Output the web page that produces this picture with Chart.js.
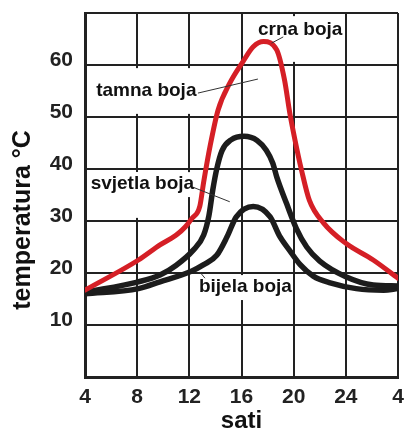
<!DOCTYPE html>
<html>
<head>
<meta charset="utf-8">
<script src="https://cdn.jsdelivr.net/npm/chart.js@4"></script>
<style>
  html, body { margin: 0; padding: 0; background: #fff; }
  #wrap { width: 404px; height: 430px; }
</style>
</head>
<body>
<div id="wrap"><canvas id="c" width="404" height="430"></canvas></div>
<script>
// hours of the day (4 .. 28, the last tick reads "4" again)
const hourTicks = [4, 8, 12, 16, 20, 24, 28];
const tickLabels = ['4', '8', '12', '16', '20', '24', '4'];

// crna boja (red curve)
const darkHours = [4, 8.1, 9.75, 11, 11.7, 12.2, 12.8, 13.1, 13.6, 14.2, 15.1, 16.1, 16.9, 17.7, 18.7, 19.3, 19.7, 20.1, 20.6, 21.2, 22.3, 24, 26.1, 28];
const darkTemps = [16.7, 22.5, 25.4, 27.3, 28.9, 30.5, 32.8, 37.5, 44.5, 51.3, 56.5, 60.6, 63.5, 64.5, 62.9, 57.1, 50.8, 45.6, 39.8, 34, 29.6, 25.7, 22.5, 19];

// svjetla boja (upper black curve)
const lightHours = [4, 8.1, 9.75, 11, 12.3, 13.1, 13.5, 13.8, 14.1, 14.5, 15.2, 16.2, 17.2, 17.9, 18.4, 18.7, 19.45, 20.2, 21, 22, 24, 26.1, 28];
const lightTemps = [16.3, 18.3, 19.6, 21.5, 24.4, 27.3, 31, 36, 40, 43.5, 45.6, 46.3, 45.5, 43.6, 41.1, 38.5, 33.4, 28.6, 25, 22.3, 19.3, 17.7, 17.5];

// bijela boja (lower black curve)
const whiteHours = [4, 8.1, 9.75, 12.2, 13.1, 14.1, 14.9, 15.6, 16.9, 18.2, 18.9, 19.7, 20.5, 21.5, 22.8, 24.8, 26.9, 28];
const whiteTemps = [16, 17, 18.3, 20.4, 21.6, 23.4, 27, 30.8, 32.8, 30.8, 27.2, 24.3, 21.6, 19.4, 18.1, 17, 16.7, 17];

const pts = (hs, ts) => hs.map((h, i) => ({x: h, y: ts[i]}));

// text labels: [text, hour, temp, leader from (h,t), leader to (h,t)]
const notes = [
  ['crna boja', 20.5, 66.7, [19.2, 65.4], [18.3, 64.2]],
  ['tamna boja', 8.7, 55, [12.66, 54.6], [17.26, 57.3]],
  ['svjetla boja', 8.4, 37.1, [12.28, 36.5], [15.1, 33.7]],
  ['bijela boja', 16.3, 17.3, [12.8, 20.2], [13.2, 19.0]],
];

// white patches behind the labels (hour1, hour2, temp1, temp2)
const gaps = [
  [17.4, 23.7, 60.6, 69.4],
  [4.4, 15.5, 50.6, 59.4],
  [4.4, 12.6, 34.6, 39.4],
  [4.4, 11.5, 30.6, 39.4],
  [13.5, 19.5, 14.8, 19.6],
];

const annotate = {
  id: 'annotate',
  beforeDatasetsDraw(chart) {
    const {ctx, scales: {x, y}} = chart;
    ctx.save();
    ctx.fillStyle = '#fff';
    gaps.forEach(([h1, h2, t1, t2]) => {
      const x1 = x.getPixelForValue(h1), x2 = x.getPixelForValue(h2);
      const y1 = y.getPixelForValue(t2), y2 = y.getPixelForValue(t1);
      ctx.fillRect(x1, y1, x2 - x1, y2 - y1);
    });
    ctx.restore();
  },
  afterDatasetsDraw(chart) {
    const {ctx, chartArea, scales: {x, y}} = chart;
    ctx.save();
    ctx.strokeStyle = '#333';
    ctx.lineWidth = 1;
    ctx.fillStyle = '#111';
    ctx.font = 'bold 19px "Liberation Sans", Arial, sans-serif';
    ctx.textAlign = 'center';
    ctx.textBaseline = 'middle';
    notes.forEach(([txt, h, t, from, to]) => {
      ctx.beginPath();
      ctx.moveTo(x.getPixelForValue(from[0]), y.getPixelForValue(from[1]));
      ctx.lineTo(x.getPixelForValue(to[0]), y.getPixelForValue(to[1]));
      ctx.stroke();
      ctx.fillText(txt, x.getPixelForValue(h), y.getPixelForValue(t));
    });
    // y axis title, sits a little below the middle of the axis
    ctx.translate(chartArea.left - 62, y.getPixelForValue(30.2));
    ctx.rotate(-Math.PI / 2);
    ctx.font = 'bold 25px "Liberation Sans", Arial, sans-serif';
    ctx.fillText('temperatura °C', 0, 0);
    ctx.restore();
  }
};

const font = {family: '"Liberation Sans", Arial, sans-serif', weight: 'bold', size: 21};

new Chart(document.getElementById('c'), {
  type: 'line',
  data: {
    datasets: [
      {label: 'crna boja', data: pts(darkHours, darkTemps), borderColor: '#d51f26', borderWidth: 5},
      {label: 'svjetla boja', data: pts(lightHours, lightTemps), borderColor: '#1c1c1c', borderWidth: 5.5},
      {label: 'bijela boja', data: pts(whiteHours, whiteTemps), borderColor: '#1c1c1c', borderWidth: 5.5},
    ]
  },
  options: {
    responsive: false,
    animation: false,
    layout: {padding: {top: 13, right: 6, left: 0, bottom: 0}},
    elements: {
      point: {radius: 0},
      line: {cubicInterpolationMode: 'monotone', fill: false, borderCapStyle: 'round'}
    },
    plugins: {legend: {display: false}, tooltip: {enabled: false}},
    scales: {
      x: {
        type: 'linear',
        min: 4, max: 28,
        afterFit: (s) => { s.height = 53; s.paddingLeft = 0; s.paddingRight = 0; },
        afterBuildTicks: (s) => { s.ticks = hourTicks.map(v => ({value: v})); },
        ticks: {
          color: '#222', font, padding: 8,
          callback: (v) => tickLabels[hourTicks.indexOf(v)]
        },
        grid: {color: '#222', lineWidth: 2, drawTicks: false},
        border: {color: '#222', width: 3},
        title: {display: true, text: 'sati', color: '#111', font: {family: font.family, weight: 'bold', size: 24, lineHeight: 0.75}, padding: 0}
      },
      y: {
        min: 0, max: 70,
        afterFit: (s) => { s.width = 85; s.paddingTop = 0; s.paddingBottom = 0; },
        ticks: {
          stepSize: 10, color: '#222', font, padding: 12, labelOffset: -5,
          callback: (v) => (v === 0 || v === 70) ? '' : v
        },
        grid: {color: '#222', lineWidth: 2, drawTicks: false},
        border: {color: '#222', width: 3}
      }
    }
  },
  plugins: [annotate]
});
</script>
</body>
</html>
